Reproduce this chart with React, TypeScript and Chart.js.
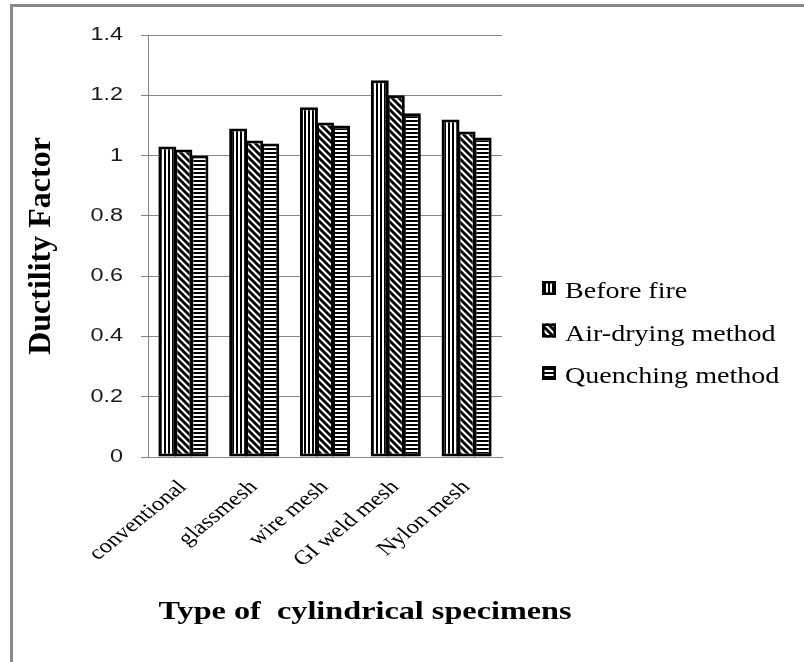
import React, { useEffect, useRef } from "react";
import { Chart, registerables } from "chart.js";

Chart.register(...registerables);

const categories = ["conventional", "glassmesh", "wire mesh", "GI weld mesh", "Nylon mesh"];
const beforeFire = [1.03, 1.09, 1.16, 1.25, 1.12];
const airDrying = [1.02, 1.05, 1.11, 1.2, 1.08];
const quenching = [1.0, 1.04, 1.1, 1.14, 1.06];
const seriesNames = ["Before fire", "Air-drying method", "Quenching method"];
const yTickValues = [0, 0.2, 0.4, 0.6, 0.8, 1, 1.2, 1.4];
const yTitle = "Ductility Factor";
const xTitle = "Type of  cylindrical specimens";

function makePattern(kind: string): CanvasPattern | string {
  const c = document.createElement("canvas");
  const size = kind === "d" ? 7 : 4;
  c.width = size;
  c.height = size;
  const ctx = c.getContext("2d");
  if (!ctx) return "#fff";
  ctx.fillStyle = "#fff";
  ctx.fillRect(0, 0, size, size);
  ctx.fillStyle = "#000";
  ctx.strokeStyle = "#000";
  if (kind === "v") {
    ctx.fillRect(0, 0, 2, size);
  } else if (kind === "h") {
    ctx.fillRect(0, 0, size, 2);
  } else {
    ctx.lineWidth = 2.8;
    for (const k of [-size, 0, size]) {
      ctx.beginPath();
      ctx.moveTo(k - 1, -1);
      ctx.lineTo(k + size + 1, size + 1);
      ctx.stroke();
    }
  }
  return ctx.createPattern(c, "repeat") || "#fff";
}

const SERIF = "'Liberation Serif', 'Times New Roman', Times, serif";
const SX = 1.24;

export default function App() {
  const ref = useRef<HTMLCanvasElement | null>(null);

  useEffect(() => {
    const canvas = ref.current;
    if (!canvas) return;
    const patterns = [makePattern("v"), makePattern("d"), makePattern("h")];
    const seriesData = [beforeFire, airDrying, quenching];

    const textPlugin = {
      id: "textPlugin",
      afterDraw(chart: any) {
        const ctx: CanvasRenderingContext2D = chart.ctx;
        const ys = chart.scales.y;
        const xs = chart.scales.x;
        ctx.save();
        ctx.fillStyle = "#000";
        // y tick labels
        ctx.font = "18px 'Liberation Sans', Arial, sans-serif";
        ctx.textAlign = "right";
        ctx.textBaseline = "middle";
        for (const v of yTickValues) {
          const y = ys.getPixelForValue(v);
          ctx.save();
          ctx.translate(ys.right - 25, y);
          ctx.scale(1.3, 1);
          ctx.fillStyle = "#1a1a1a";
          ctx.fillText(String(v), 0, 0);
          ctx.restore();
        }
        // x tick labels
        ctx.font = "20px " + SERIF;
        ctx.textAlign = "right";
        ctx.textBaseline = "top";
        categories.forEach((lab, i) => {
          const x = xs.getPixelForValue(i);
          ctx.save();
          ctx.translate(x - 9, xs.top + 20);
          ctx.scale(1.23, 1);
          ctx.rotate(-Math.PI / 4);
          ctx.fillText(lab, 0, 0);
          ctx.restore();
        });
        // y title
        ctx.font = "bold 32px " + SERIF;
        ctx.textAlign = "center";
        ctx.textBaseline = "alphabetic";
        ctx.save();
        ctx.translate(50, (ys.top + ys.bottom) / 2);
        ctx.rotate(-Math.PI / 2);
        ctx.fillText(yTitle, 0, 0);
        ctx.restore();
        // x title
        ctx.font = "bold 26px " + SERIF;
        ctx.save();
        ctx.translate(365, 619);
        ctx.scale(SX, 1);
        ctx.fillText(xTitle, 0, 0);
        ctx.restore();
        // legend
        ctx.font = "23px " + SERIF;
        ctx.textAlign = "left";
        ctx.textBaseline = "alphabetic";
        seriesNames.forEach((name, i) => {
          const by = 281 + i * 42.5;
          ctx.fillStyle = patterns[i] as any;
          ctx.fillRect(542, by, 14, 14);
          ctx.strokeStyle = "#000";
          ctx.lineWidth = 2.5;
          ctx.strokeRect(543.25, by + 1.25, 11.5, 11.5);
          ctx.fillStyle = "#000";
          ctx.save();
          ctx.translate(565, by + 17);
          ctx.scale(1.22, 1);
          ctx.fillText(name, 0, 0);
          ctx.restore();
        });
        ctx.restore();
      },
    };

    const chart = new Chart(canvas, {
      type: "bar",
      data: {
        labels: categories,
        datasets: seriesNames.map((name, i) => ({
          label: name,
          data: seriesData[i],
          backgroundColor: patterns[i] as any,
          borderColor: "#000",
          borderWidth: 3,
          borderSkipped: false,
          categoryPercentage: 0.68,
          barPercentage: 1.12,
        })),
      },
      options: {
        responsive: false,
        animation: false,
        devicePixelRatio: 1,
        layout: { padding: { left: 0, top: 35, right: 302, bottom: 0 } },
        plugins: {
          legend: { display: false },
          tooltip: { enabled: false },
          title: { display: false },
        },
        scales: {
          x: {
            grid: { display: false },
            border: { display: true, color: "#868686", width: 1 },
            ticks: { display: false },
            afterFit(scale: any) {
              scale.height = 662 - 457;
            },
          },
          y: {
            min: 0,
            max: 1.4,
            ticks: { display: false, stepSize: 0.2 },
            grid: { color: "#868686", lineWidth: 1, drawTicks: true, tickLength: 7 },
            border: { display: true, color: "#868686", width: 1 },
            afterFit(scale: any) {
              scale.width = 148;
            },
          },
        },
      },
      plugins: [textPlugin],
    });
    return () => chart.destroy();
  }, []);

  return (
    <div style={{ position: "fixed", left: 0, top: 0, width: 804, height: 662, background: "#fff", overflow: "hidden" }}>
      <div
        style={{
          position: "absolute",
          left: 10,
          top: 4,
          width: 900,
          height: 800,
          borderLeft: "3px solid #8a8a8a",
          borderTop: "3px solid #8a8a8a",
        }}
      />
      <canvas ref={ref} width={804} height={662} style={{ position: "absolute", left: 0, top: 0 }} />
    </div>
  );
}
